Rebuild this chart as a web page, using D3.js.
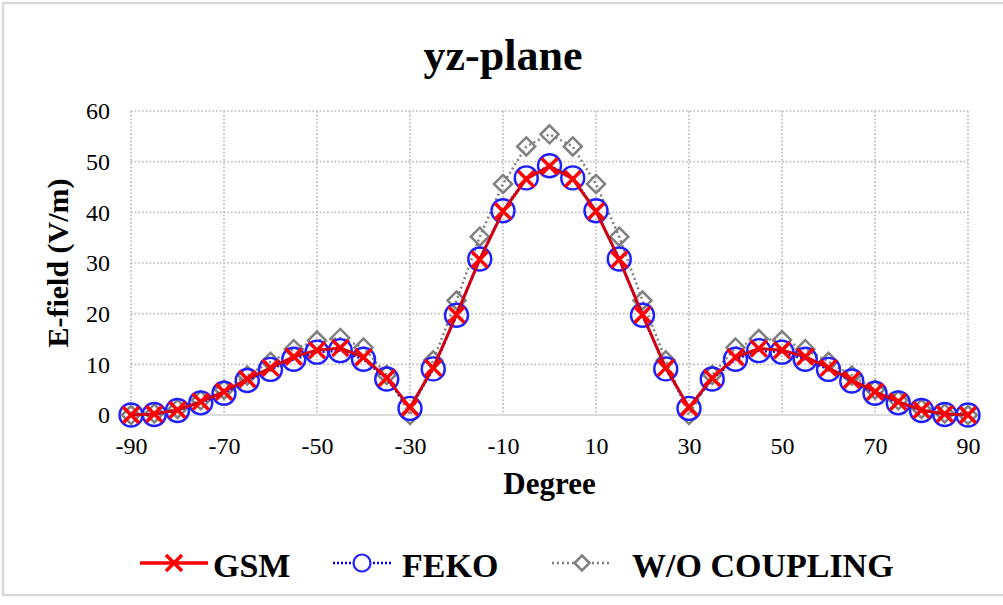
<!DOCTYPE html>
<html>
<head>
<meta charset="utf-8">
<script src="https://cdn.jsdelivr.net/npm/d3@7"></script>
<style>
    body { margin: 0; background: #fff; }
    text { font-family: "Liberation Serif", "Times New Roman", serif; fill: #000; }
</style>
</head>
<body>
<script>

// degree steps along the x axis
var degrees = [-90, -85, -80, -75, -70, -65, -60, -55, -50, -45, -40, -35, -30, -25, -20, -15, -10, -5, 0,
    5, 10, 15, 20, 25, 30, 35, 40, 45, 50, 55, 60, 65, 70, 75, 80, 85, 90];

var gsm = [0, 0.2, 1.0, 2.6, 4.6, 7.1, 9.3, 11.5, 12.8, 13.2, 11.4, 7.3, 1.5, 9.3, 19.8, 30.7, 40.2, 46.6, 49.1,
    46.6, 40.2, 30.7, 19.8, 9.3, 1.5, 7.3, 11.4, 13.1, 12.8, 11.5, 9.3, 6.9, 4.6, 2.6, 1.0, 0.2, 0];

var feko = [0, 0.1, 0.9, 2.4, 4.3, 6.8, 9.0, 11.0, 12.4, 12.7, 11.0, 7.1, 1.3, 9.1, 19.7, 30.8, 40.3, 46.8, 49.2,
    46.8, 40.3, 30.8, 19.7, 9.1, 1.3, 7.1, 11.0, 12.7, 12.4, 11.0, 9.0, 6.7, 4.3, 2.4, 0.9, 0.1, 0];

var woCoupling = [0, 0.3, 1.2, 2.9, 5.0, 7.8, 10.5, 13.0, 14.7, 15.2, 13.3, 7.9, 0, 10.8, 22.6, 35.2, 45.6, 53.0, 55.4,
    53.0, 45.6, 35.2, 22.6, 10.8, 0, 7.9, 13.3, 15.0, 14.8, 13.0, 10.5, 7.8, 5.0, 2.9, 1.2, 0.3, 0];

var xTicks = [-90, -70, -50, -30, -10, 10, 30, 50, 70, 90];
var yTicks = [0, 10, 20, 30, 40, 50, 60];

var seriesNames = ["GSM", "FEKO", "W/O COUPLING"];

var w = 1003;
var h = 605;
var pLeft = 131, pRight = 968, pTop = 111, pBottom = 415;

var svg = d3.select("body")
    .append("svg")
    .attr("width", w)
    .attr("height", h);

// outer frame
svg.append("rect")
    .attr("x", 3).attr("y", 3)
    .attr("width", 1003).attr("height", 592)
    .attr("fill", "#fff")
    .attr("stroke", "#d9d9d9")
    .attr("stroke-width", 2.5);

var xScale = d3.scaleLinear().domain([-90, 90]).range([pLeft, pRight]);
var yScale = d3.scaleLinear().domain([0, 60]).range([pBottom, pTop]);

// grid
svg.selectAll(".vgrid")
    .data(xTicks)
    .enter()
    .append("line")
    .attr("x1", d => xScale(d)).attr("x2", d => xScale(d))
    .attr("y1", pTop).attr("y2", pBottom)
    .attr("stroke", "#bdbdbd")
    .attr("stroke-width", 1.7)
    .attr("stroke-dasharray", "1.7,2");

svg.selectAll(".hgrid")
    .data(yTicks.filter(d => d > 0))
    .enter()
    .append("line")
    .attr("x1", pLeft).attr("x2", pRight)
    .attr("y1", d => yScale(d)).attr("y2", d => yScale(d))
    .attr("stroke", "#bdbdbd")
    .attr("stroke-width", 1.7)
    .attr("stroke-dasharray", "1.7,2");

svg.append("line")
    .attr("x1", pLeft).attr("x2", pRight)
    .attr("y1", yScale(0)).attr("y2", yScale(0))
    .attr("stroke", "#d0d0d0")
    .attr("stroke-width", 1.5);

// tick labels (plain hyphen like the original)
var xAxis = d3.axisBottom(xScale).tickValues(xTicks).tickSize(0).tickPadding(22)
    .tickFormat(d => String(d));
svg.append("g")
    .attr("transform", "translate(0," + pBottom + ")")
    .call(xAxis)
    .call(g => g.select(".domain").remove())
    .selectAll("text")
    .style("font-family", "Liberation Serif")
    .style("font-size", "24px")
    .attr("fill", "#000");

var yAxis = d3.axisLeft(yScale).tickValues(yTicks).tickSize(0).tickPadding(21)
    .tickFormat(d => String(d));
svg.append("g")
    .attr("transform", "translate(" + pLeft + ",0)")
    .call(yAxis)
    .call(g => g.select(".domain").remove())
    .selectAll("text")
    .style("font-family", "Liberation Serif")
    .style("font-size", "24px")
    .attr("fill", "#000");

// series
var all = degrees.map(function (d, i) {
    return { deg: d, gsm: gsm[i], feko: feko[i], wo: woCoupling[i] };
});

function lineFor(key) {
    return d3.line()
        .x(d => xScale(d.deg))
        .y(d => yScale(d[key]));
}

function diamond(g, cx, cy, s) {
    g.append("path")
        .attr("d", "M" + cx + "," + (cy - s) + "L" + (cx + s) + "," + cy + "L" + cx + "," + (cy + s) + "L" + (cx - s) + "," + cy + "Z")
        .attr("fill", "none")
        .attr("stroke", "#808080")
        .attr("stroke-width", 2.5);
}

function cross(g, cx, cy, s) {
    g.append("path")
        .attr("d", "M" + (cx - s) + "," + (cy - s) + "L" + (cx + s) + "," + (cy + s) + "M" + (cx - s) + "," + (cy + s) + "L" + (cx + s) + "," + (cy - s))
        .attr("stroke", "#ff0000")
        .attr("stroke-width", 3.5);
}

// W/O coupling
svg.append("path")
    .datum(all)
    .attr("d", lineFor("wo"))
    .attr("fill", "none")
    .attr("stroke", "#808080")
    .attr("stroke-width", 2.5)
    .attr("stroke-dasharray", "2,3");

var woG = svg.append("g");
all.forEach(function (d) {
    diamond(woG, xScale(d.deg), yScale(d.wo), 9);
});

// FEKO
svg.append("path")
    .datum(all)
    .attr("d", lineFor("feko"))
    .attr("fill", "none")
    .attr("stroke", "#0000ff")
    .attr("stroke-width", 2.5)
    .attr("stroke-dasharray", "2,2");

svg.selectAll(".feko")
    .data(all)
    .enter()
    .append("circle")
    .attr("cx", d => xScale(d.deg))
    .attr("cy", d => yScale(d.feko))
    .attr("r", 11.5)
    .attr("fill", "none")
    .attr("stroke", "#2020ff")
    .attr("stroke-width", 2.4);

// GSM
svg.append("path")
    .datum(all)
    .attr("d", lineFor("gsm"))
    .attr("fill", "none")
    .attr("stroke", "#d00010")
    .attr("stroke-width", 3);

var gsmG = svg.append("g");
all.forEach(function (d) {
    cross(gsmG, xScale(d.deg), yScale(d.gsm), 8);
});

// titles
svg.append("text")
    .attr("x", 503).attr("y", 70)
    .attr("text-anchor", "middle")
    .style("font-size", "44px")
    .style("font-weight", "bold")
    .text("yz-plane");

svg.append("text")
    .attr("x", (pLeft + pRight) / 2).attr("y", 494)
    .attr("text-anchor", "middle")
    .style("font-size", "31px")
    .style("font-weight", "bold")
    .text("Degree");

svg.append("text")
    .attr("transform", "translate(68," + ((pTop + pBottom) / 2) + ")rotate(-90)")
    .attr("text-anchor", "middle")
    .style("font-size", "30px")
    .style("font-weight", "bold")
    .text("E-field (V/m)");

// legend
var ly = 563;
var leg = svg.append("g");

leg.append("line")
    .attr("x1", 140).attr("x2", 208).attr("y1", ly).attr("y2", ly)
    .attr("stroke", "#ff0000").attr("stroke-width", 3.5);
cross(leg, 174, ly, 8);
leg.append("text").attr("x", 213).attr("y", 577)
    .style("font-size", "34px").style("font-weight", "bold")
    .text(seriesNames[0]);

leg.append("line")
    .attr("x1", 333).attr("x2", 392).attr("y1", ly).attr("y2", ly)
    .attr("stroke", "#0000ff").attr("stroke-width", 2.5)
    .attr("stroke-dasharray", "2,2");
leg.append("circle")
    .attr("cx", 362).attr("cy", ly).attr("r", 8.5)
    .attr("fill", "#fff").attr("stroke", "#2020ff").attr("stroke-width", 2.2);
leg.append("text").attr("x", 402).attr("y", 577)
    .style("font-size", "34px").style("font-weight", "bold")
    .text(seriesNames[1]);

leg.append("line")
    .attr("x1", 552).attr("x2", 612).attr("y1", ly).attr("y2", ly)
    .attr("stroke", "#808080").attr("stroke-width", 2.5)
    .attr("stroke-dasharray", "2,3");
leg.append("rect")
    .attr("x", 574).attr("y", ly - 8).attr("width", 16).attr("height", 16)
    .attr("fill", "#fff");
diamond(leg, 582, ly, 7.5);
leg.append("text").attr("x", 632).attr("y", 577)
    .style("font-size", "34px").style("font-weight", "bold")
    .text(seriesNames[2]);

</script>
</body>
</html>
